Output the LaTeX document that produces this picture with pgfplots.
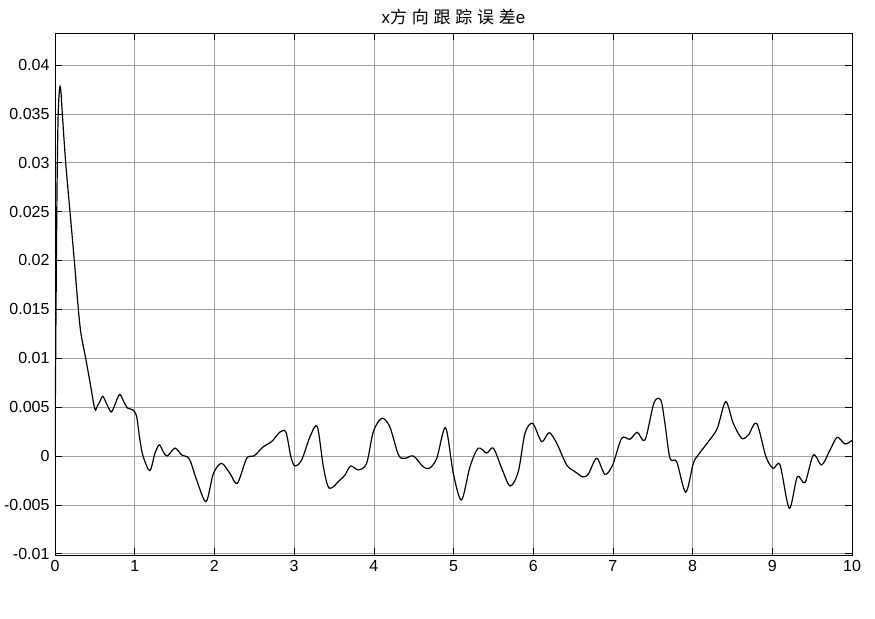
\documentclass[border=0pt]{standalone}
\usepackage{fontspec}
\setmainfont{Liberation Sans}
\newfontfamily\cjk[LetterSpace=28]{Noto Sans CJK SC}
\usepackage{pgfplots}
\pgfplotsset{compat=1.18}

\begin{document}
\fontsize{16bp}{18bp}\selectfont
\begin{tikzpicture}
\path[use as bounding box] (-55bp,-64bp) rectangle (820bp,555bp);
\begin{axis}[
  scale only axis,
  width=797bp, height=522bp,
  xmin=0, xmax=10,
  ymin=-0.01013, ymax=0.04327,
  xtick={0,1,...,10},
  ytick={-0.01,-0.005,0,0.005,0.01,0.015,0.02,0.025,0.03,0.035,0.04},
  yticklabels={-0.01,-0.005,0,0.005,0.01,0.015,0.02,0.025,0.03,0.035,0.04},
  scaled y ticks=false,
  /pgf/number format/assume math mode=true,
  tick align=inside,
  major tick length=7bp,
  tick style={black, line width=0.6pt},
  grid=major,
  grid style={gray!75, line width=0.5pt},
  axis line style={black, line width=0.8pt},
  tick label style={font=\fontsize{16bp}{18bp}\selectfont},
  title={x{\cjk 方向跟踪误差}e},
  title style={font=\fontsize{17bp}{19bp}\selectfont, yshift=-3bp},
]
\addplot[black, line width=1.2pt, smooth, tension=0.5] coordinates {
(0,0) (0.01,0.012) (0.025,0.027) (0.04,0.035) (0.06,0.0377) (0.075,0.0372)
(0.092,0.035) (0.134,0.03) (0.188,0.025) (0.242,0.02) (0.293,0.015) (0.326,0.0125)
(0.385,0.01) (0.44,0.0075) (0.50,0.0048) (0.53,0.0051) (0.565,0.0056) (0.60,0.0061)
(0.65,0.0053) (0.705,0.0045) (0.75,0.0052) (0.81,0.0063) (0.86,0.0056) (0.91,0.0049)
(0.98,0.0047) (1.025,0.004) (1.066,0.0016) (1.108,-0.0001) (1.19,-0.0015)
(1.255,0.0003) (1.309,0.00113) (1.36,0.0004) (1.409,0.0) (1.506,0.0008) (1.59,0.0001)
(1.685,-0.0003) (1.777,-0.00245) (1.895,-0.00467) (1.987,-0.0018) (2.09,-0.00075)
(2.196,-0.0018) (2.288,-0.0028) (2.405,-0.00024) (2.497,0.0) (2.614,0.00095)
(2.718,0.00146) (2.823,0.00245) (2.898,0.00242) (2.96,-0.0001) (3.011,-0.00102)
(3.095,-0.00041) (3.2,0.00198) (3.291,0.003) (3.367,-0.0011) (3.442,-0.0033)
(3.576,-0.00245) (3.639,-0.00194) (3.71,-0.00102) (3.806,-0.00143) (3.91,-0.00075)
(3.994,0.00249) (4.1,0.00385) (4.2,0.003) (4.31,0.0001) (4.39,-0.00024) (4.496,0.0)
(4.62,-0.0011) (4.697,-0.00126) (4.79,-0.00024) (4.9,0.0029) (4.998,-0.0018)
(5.1,-0.0045) (5.207,-0.0011) (5.31,0.0008) (5.417,0.0003) (5.5,0.0008)
(5.605,-0.00126) (5.71,-0.00307) (5.813,-0.0016) (5.897,0.00232) (5.993,0.00334)
(6.106,0.00147) (6.2,0.00239) (6.295,0.0013) (6.42,-0.00092) (6.524,-0.0016)
(6.62,-0.00212) (6.69,-0.00188) (6.797,-0.00024) (6.9,-0.00188) (6.997,-0.00092)
(7.11,0.00181) (7.214,0.00171) (7.306,0.00242) (7.403,0.00164) (7.516,0.00545)
(7.6,0.00573) (7.65,0.0035) (7.716,-0.00024) (7.8,-0.00058) (7.913,-0.00371)
(8.009,-0.00075) (8.07,0.0001) (8.197,0.00146) (8.31,0.00283) (8.415,0.00556)
(8.51,0.00334) (8.616,0.00181) (8.7,0.00215) (8.804,0.00334) (8.92,-0.00007)
(9.01,-0.00126) (9.097,-0.00092) (9.213,-0.00535) (9.314,-0.00212) (9.41,-0.00273)
(9.515,0.0001) (9.62,-0.00092) (9.724,0.00061) (9.815,0.00191) (9.912,0.00123)
(10,0.0016)
};
\end{axis}
\end{tikzpicture}
\end{document}
